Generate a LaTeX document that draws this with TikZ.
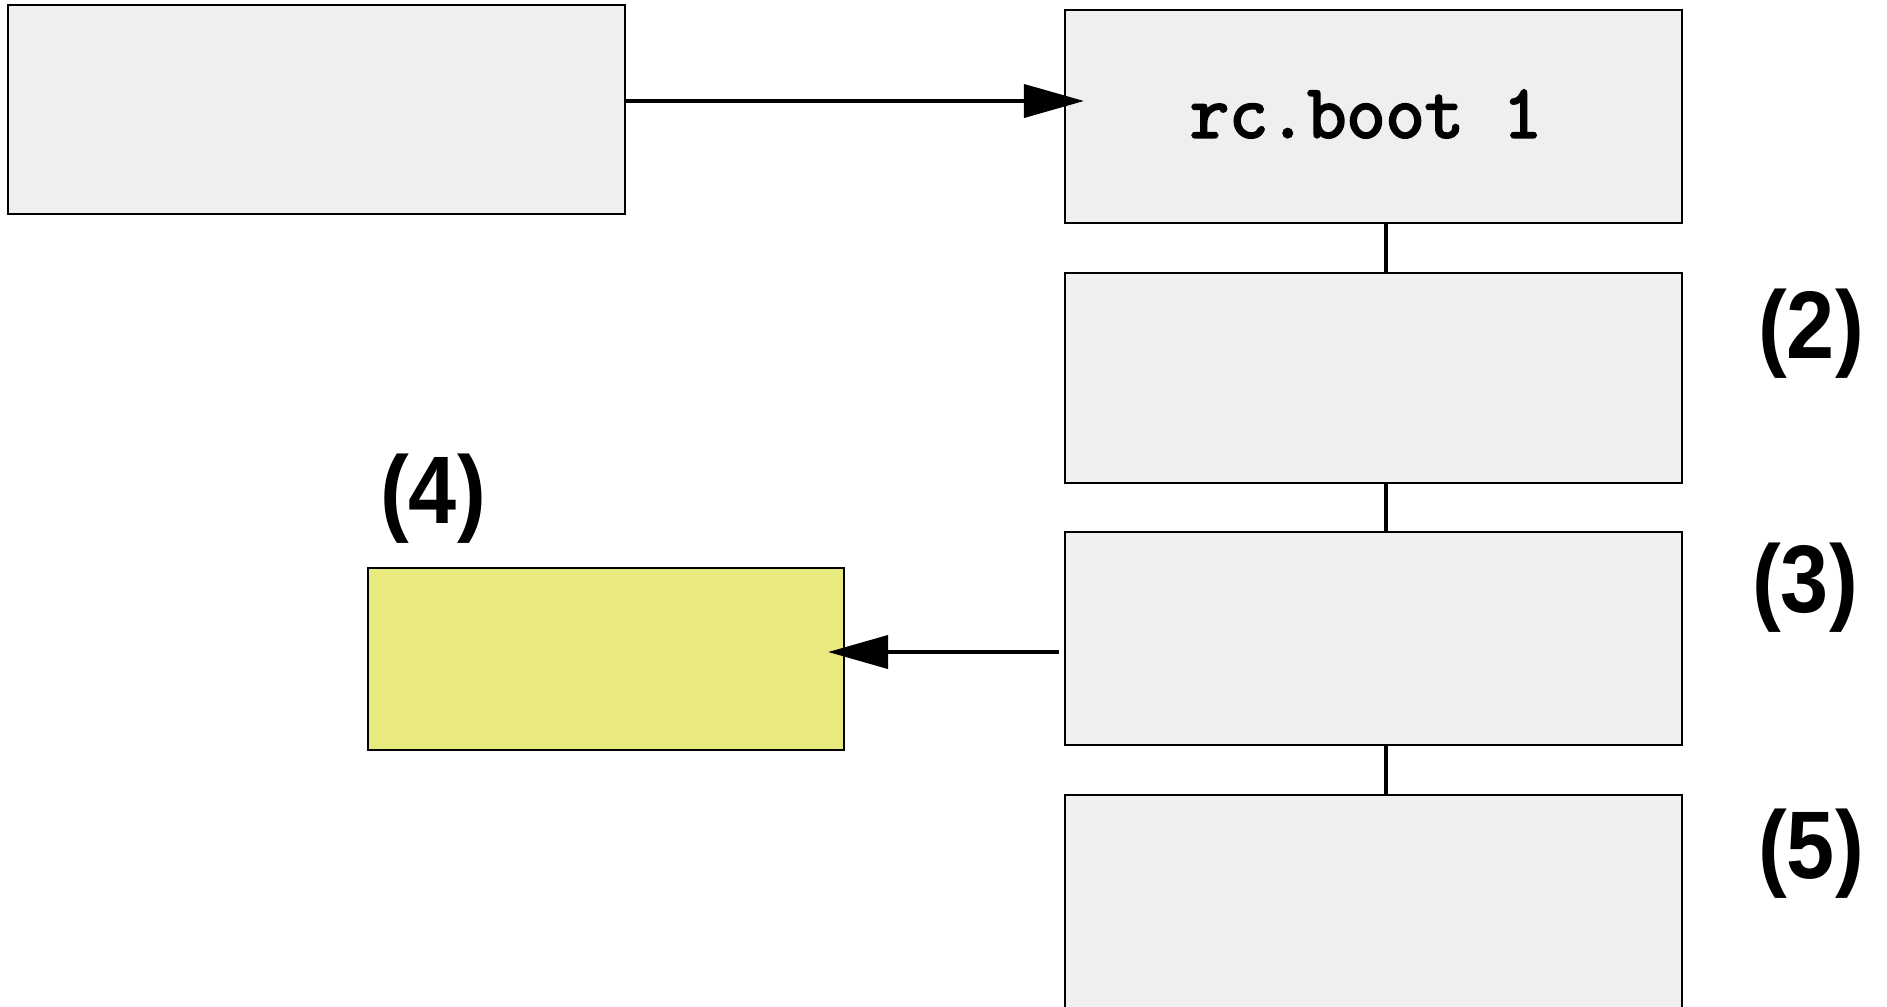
\documentclass[tikz,border=0pt]{standalone}
\usepackage{fontspec}
\setmainfont{Liberation Sans}
\newfontfamily\cajamono{Latin Modern Mono}[FakeBold=3]
\usepackage{graphicx}
\usetikzlibrary{arrows.meta,calc}
\definecolor{cajagris}{RGB}{239,239,239}
\definecolor{cajaamarilla}{RGB}{232,234,128}
\tikzset{
  caja/.style={draw, line width=1.1pt, fill=cajagris, minimum width=308.5pt, minimum height=106.5pt, inner sep=0pt},
  flecha/.style={line width=2pt, -{Triangle[length=30pt,width=16.5pt]}},
  enlace/.style={line width=1.6pt},
  etiqueta/.style={font=\fontsize{48}{48}\selectfont\bfseries, inner sep=0pt}
}

\begin{document}
\begin{tikzpicture}
  \useasboundingbox (0,0) rectangle (943.5pt,-503.5pt);
  % cajas
  \node[caja, minimum height=104.5pt] (sys) at (158.25pt,-54.75pt) {};
  \node[caja] (boot) at (686.75pt,-58.25pt) {};
  \node[font=\fontsize{38}{38}\selectfont\cajamono\bfseries, inner sep=0pt] (bootlbl) at (683pt,-57pt) {rc.boot 1};
  \node[caja, minimum height=105pt] (etapa2) at (686.75pt,-189pt) {};
  \node[caja] (etapa3) at (686.75pt,-319.25pt) {};
  \node[caja] (etapa5) at (686.75pt,-450.75pt) {};
  \node[caja, fill=cajaamarilla, minimum width=238pt, minimum height=91pt] (lateral) at (303pt,-329.5pt) {};
  % enlaces verticales
  \foreach \a/\b in {boot/etapa2, etapa2/etapa3, etapa3/etapa5}
    \draw[enlace] ($(\a.south)+(6.25pt,0)$) -- ($(\b.north)+(6.25pt,0)$);
  % flechas
  \draw[flecha] ($(sys.east)+(0,4.25pt)$) -- ($(boot.west |- sys.east)+(10pt,4.25pt)$);
  \draw[flecha] ($(etapa3.west)+(-2.5pt,-6.75pt)$) -- ($(lateral.east |- etapa3.west)+(-8.5pt,-6.75pt)$);
  % etiquetas
  \node[etiqueta] (n2) at (905.5pt,-167pt) {\scalebox{0.9}[1]{(2)}};
  \node[etiqueta] (n3) at (902.5pt,-294pt) {\scalebox{0.9}[1]{(3)}};
  \node[etiqueta] (n4) at (216.5pt,-249.5pt) {\scalebox{0.9}[1]{(4)}};
  \node[etiqueta] (n5) at (905.5pt,-427pt) {\scalebox{0.9}[1]{(5)}};
\end{tikzpicture}
\end{document}
